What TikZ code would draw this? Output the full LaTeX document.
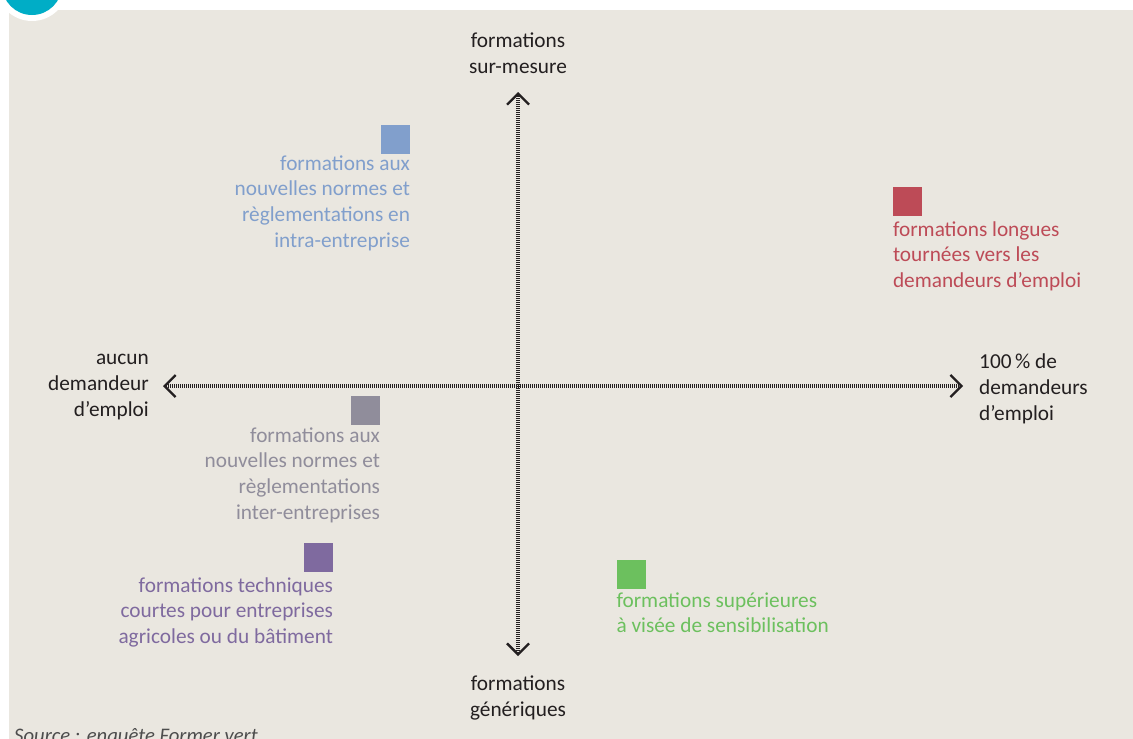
\documentclass[tikz,border=0pt]{standalone}
\usepackage{fontspec}
\setmainfont{Carlito}
\usetikzlibrary{arrows.meta,positioning}
\definecolor{fond}{HTML}{EAE7E0}
\definecolor{pastille}{HTML}{00ADC6}
\definecolor{ink}{HTML}{231F20}
\definecolor{bleu}{HTML}{819FCC}
\definecolor{rouge}{HTML}{BD4B57}
\definecolor{gris}{HTML}{908D9B}
\definecolor{violet}{HTML}{7F6A9F}
\definecolor{vert}{HTML}{6CC05E}
\definecolor{source}{HTML}{4D4D4D}

\begin{document}
\begin{tikzpicture}[x=1pt,y=-1pt,
  lbl/.style={inner sep=0,font=\fontsize{21.3}{25.8}\selectfont,text=ink},
  carre/.style={minimum size=29pt,inner sep=0},
  axe/.style={draw=ink,line width=4.5pt,dash pattern=on 0.9pt off 1.1pt,
    arrows={Straight Barb[line width=2.3pt,length=11pt,width=22pt]-Straight Barb[line width=2.3pt,length=11pt,width=22pt]}}]
\useasboundingbox (0,0) rectangle (1133,739);
\fill[fond] (9,10) rectangle (1140,750);
\fill[white] (32,-15) circle (36pt);
\fill[pastille] (32,-15) circle (30pt);

% axes
\coordinate (axN) at (518,92);
\coordinate (axS) at (518,656);
\coordinate (axW) at (163,386);
\coordinate (axE) at (963,386);
\draw[axe] (axS) -- (axN);
\draw[axe] (axW) -- (axE);

\node[lbl,align=center,anchor=north] (surMesure) at (518,33) {formations\\sur-mesure};
\node[lbl,align=center,anchor=north] (generiques) at (518,676) {formations\\génériques};
\node[lbl,align=right,anchor=north east] (aucunDE) at (149,354) {aucun\\demandeur\\d’emploi};
\node[lbl,align=left,anchor=north west] (centDE) at (979,354) {100\,\% de\\demandeurs\\d’emploi};

% types de formations
\node[carre,fill=bleu] (sqIntra) at (395.5,139.5) {};
\node[lbl,text=bleu,align=right,anchor=north east] (txtIntra) at ([yshift=-1pt]sqIntra.south east)
  {formations aux\\nouvelles normes et\\règlementations en\\intra-entreprise};
\node[carre,fill=rouge] (sqLongues) at (907.5,201.5) {};
\node[lbl,text=rouge,align=left,anchor=north west] (txtLongues) at ([yshift=-5pt]sqLongues.south west)
  {formations longues\\tournées vers les\\demandeurs d’emploi};
\node[carre,fill=gris] (sqInter) at (365.5,410.5) {};
\node[lbl,text=gris,align=right,anchor=north east] (txtInter) at ([yshift=-2pt]sqInter.south east)
  {formations aux\\nouvelles normes et\\règlementations\\inter-entreprises};
\node[carre,fill=violet] (sqTech) at (318.5,557.5) {};
\node[lbl,text=violet,align=right,anchor=north east] (txtTech) at ([yshift=-5pt]sqTech.south east)
  {formations techniques\\courtes pour entreprises\\agricoles ou du bâtiment};
\node[carre,fill=vert] (sqSup) at (631,574.5) {};
\node[lbl,text=vert,align=left,anchor=north west] (txtSup) at ([yshift=-3pt]sqSup.south west)
  {formations supérieures\\à visée de sensibilisation};

\node[anchor=base west,inner sep=0,font=\fontsize{20.7}{24}\selectfont\itshape,text=source] (src)
  at (14,742) {Source : enquête Former vert};
\end{tikzpicture}
\end{document}
